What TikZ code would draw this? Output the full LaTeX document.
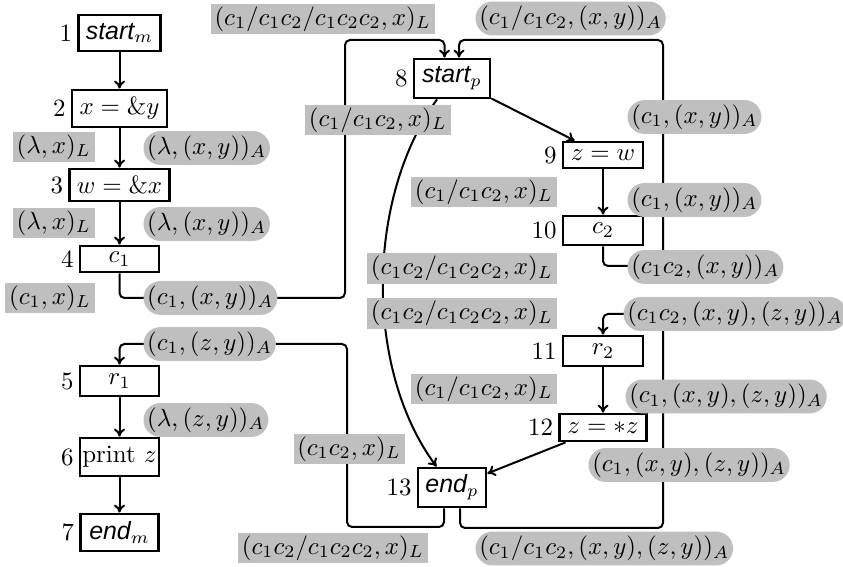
\documentclass[tikz,border=0pt]{standalone}
\usepackage{fontspec}
\newfontfamily\hvf{Liberation Sans}
\usetikzlibrary{arrows.meta}
\definecolor{labgray}{gray}{0.75}
\tikzset{
 stmt/.style={draw, line width=1.1bp, fill=white, inner sep=0pt},
 sz/.style 2 args={minimum width=#1bp, minimum height=#2bp},
 numl/.style={label={[inner sep=1.8bp]left:#1}},
 conn/.style={line width=0.8bp, rounded corners=2bp, -{To[length=3.2bp,width=4.4bp]}},
 lbase/.style={fill=labgray, text height=7.5pt, text depth=2.5pt, inner xsep=1.5bp},
 lrect/.style={lbase, inner ysep=1.2bp},
 lpill/.style={lbase, inner ysep=1.8bp, rounded corners=6.8bp},
}
\begin{document}
\begin{tikzpicture}[x=0.4bp,y=-0.4bp]
\useasboundingbox (0,0) rectangle (843,567);
% statement nodes
\node[stmt, sz={32.8}{14.4}, numl=1] (n1) at (119.5,33) {{\hvf\itshape start}$_m$};
\node[stmt, sz={38}{14.8}, numl=2] (n2) at (119.5,108.5) {$x=\&y$};
\node[stmt, sz={40}{12.8}, numl=3] (n3) at (119.5,185) {$w=\&x$};
\node[stmt, sz={31.6}{10.4}, numl=4] (n4) at (119.5,259) {$c_1$};
\node[stmt, sz={31.6}{12}, numl=5] (n5) at (119.5,381) {$r_1$};
\node[stmt, sz={31.6}{15.2}, numl=6] (n6) at (119.5,457) {print $z$};
\node[stmt, sz={31.2}{14.8}, numl=7] (n7) at (119.5,532.5) {{\hvf\itshape end}$_m$};
\node[stmt, sz={30.4}{15.6}, numl=8] (n8) at (452,78.5) {{\hvf\itshape start}$_p$};
\node[stmt, sz={32}{10.4}, numl=9] (n9) at (603,155) {$z=w$};
\node[stmt, sz={32}{11.6}, numl=10] (n10) at (603,230.5) {$c_2$};
\node[stmt, sz={32}{12}, numl=11] (n11) at (603,351) {$r_2$};
\node[stmt, sz={34.8}{10.8}, numl=12] (n12) at (603,427.5) {$z=*z$};
\node[stmt, sz={27.2}{15.6}, numl=13] (n13) at (452,487.5) {{\hvf\itshape end}$_p$};
% corner points
\coordinate (k1) at (345,298);
\coordinate (k2) at (345,40);
\coordinate (k3) at (663,266);
\coordinate (k4) at (663,40);
\coordinate (k5) at (663,528);
\coordinate (k6) at (663,314);
\coordinate (k7) at (347,527);
\coordinate (k8) at (347,344);
\coordinate (k9) at (365,200);
\coordinate (k10) at (365,370);
% connectors
\draw[conn] (n1) -- (n2);
\draw[conn] (n2) -- (n3);
\draw[conn] (n3) -- (n4);
\draw[conn] (n5) -- (n6);
\draw[conn] (n6) -- (n7);
\draw[conn] (n8) -- (n9);
\draw[conn] (n9) -- (n10);
\draw[conn] (n11) -- (n12);
\draw[conn] (n12) -- (n13);
\draw[conn] (n8) .. controls (k9) and (k10) .. (n13);
\draw[conn] (n4) |- (k1) -- (k2) -| ([xshift=-3bp]n8.north);
\draw[conn] (n10) |- (k3) -- (k4) -| ([xshift=2.8bp]n8.north);
\draw[conn] ([xshift=3.2bp]n13.south) |- (k5) -- (k6) -| (n11);
\draw[conn] ([xshift=-3.2bp]n13.south) |- (k7) -- (k8) -| (n5);
% L labels
\node[lrect, anchor=east] (a1) at (95,147) {$(\lambda,x)_L$};
\node[lrect, anchor=east] (a2) at (95,223) {$(\lambda,x)_L$};
\node[lrect, anchor=east] (a3) at (95,298) {$(c_1,x)_L$};
\node[lrect, anchor=east] (a4) at (435,19) {$(c_1/c_1c_2/c_1c_2c_2,x)_L$};
\node[lrect, anchor=east] (a5) at (451,120) {$(c_1/c_1c_2,x)_L$};
\node[lrect, anchor=east] (a6) at (557,192) {$(c_1/c_1c_2,x)_L$};
\node[lrect, anchor=east] (a7) at (557,268.5) {$(c_1c_2/c_1c_2c_2,x)_L$};
\node[lrect, anchor=east] (a8) at (557,313.5) {$(c_1c_2/c_1c_2c_2,x)_L$};
\node[lrect, anchor=east] (a9) at (557,389) {$(c_1/c_1c_2,x)_L$};
\node[lrect, anchor=east] (a10) at (405,449) {$(c_1c_2,x)_L$};
\node[lrect, anchor=east] (a11) at (428,548) {$(c_1c_2/c_1c_2c_2,x)_L$};
% A labels
\node[lpill, anchor=west] (b1) at (143,148) {$(\lambda,(x,y))_A$};
\node[lpill, anchor=west] (b2) at (143,224) {$(\lambda,(x,y))_A$};
\node[lpill, anchor=west] (b3) at (143,298) {$(c_1,(x,y))_A$};
\node[lpill, anchor=west] (b4) at (143,344) {$(c_1,(z,y))_A$};
\node[lpill, anchor=west] (b5) at (143,420) {$(\lambda,(z,y))_A$};
\node[lpill, anchor=west] (b6) at (475,18.5) {$(c_1/c_1c_2,(x,y))_A$};
\node[lpill, anchor=west] (b7) at (627,117) {$(c_1,(x,y))_A$};
\node[lpill, anchor=west] (b8) at (627,200) {$(c_1,(x,y))_A$};
\node[lpill, anchor=west] (b9) at (627,267) {$(c_1c_2,(x,y))_A$};
\node[lpill, anchor=west] (b10) at (623,314) {$(c_1c_2,(x,y),(z,y))_A$};
\node[lpill, anchor=west] (b11) at (625,396.5) {$(c_1,(x,y),(z,y))_A$};
\node[lpill, anchor=west] (b12) at (588,465) {$(c_1,(x,y),(z,y))_A$};
\node[lpill, anchor=west] (b13) at (475,548.5) {$(c_1/c_1c_2,(x,y),(z,y))_A$};
\end{tikzpicture}
\end{document}
